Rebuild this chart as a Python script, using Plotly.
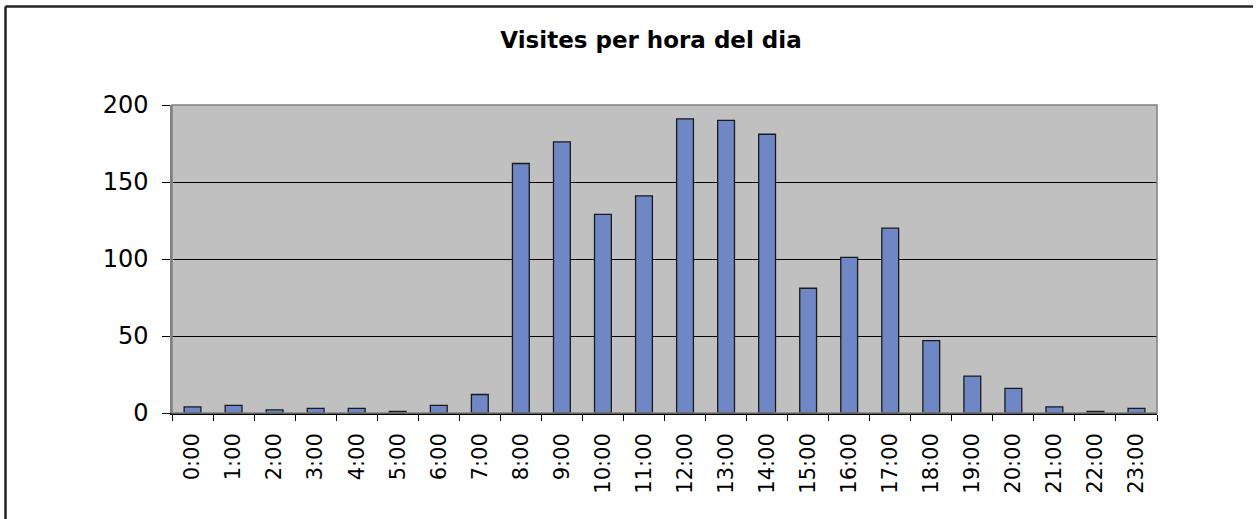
import plotly.graph_objects as go

hours = [f"{h}:00" for h in range(24)]
visits = [4, 5, 2, 3, 3, 1, 5, 12, 162, 176, 129, 141, 191, 190, 181, 81, 101, 120, 47, 24, 16, 4, 1, 3]
y_ticks = [0, 50, 100, 150, 200]
title_text = "Visites per hora del dia"

W, H = 1258, 519
L, R, T, B = 172, 101, 105, 106
pw, ph = W - L - R, H - T - B

fig = go.Figure(go.Bar(
    x=hours, y=visits,
    marker=dict(color="#6F87C4", line=dict(color="#1a1a1a", width=1.3)),
    width=0.41,
))

font = "DejaVu Sans, Verdana, sans-serif"
fig.update_layout(
    width=W, height=H,
    margin=dict(l=L, r=R, t=T, b=B, autoexpand=False),
    paper_bgcolor="white", plot_bgcolor="#C0C0C0",
    showlegend=False,
    title=dict(text=f"<b>{title_text}</b>", x=651 / W, xref="container", xanchor="center",
               y=1 - 40 / H, yref="container", yanchor="middle",
               font=dict(family=font, size=23, color="black")),
    font=dict(family=font, size=20, color="black"),
)
fig.update_xaxes(
    type="category", tickangle=-90, tickson="boundaries",
    ticks="outside", ticklen=6, tickcolor="black", tickwidth=1,
    showline=True, linecolor="black", linewidth=1.5,
    showgrid=False, tickfont=dict(size=21), ticklabelstandoff=10,
)
fig.update_yaxes(
    range=[0, 200], tickvals=y_ticks,
    ticks="outside", ticklen=8, tickcolor="black", tickwidth=1,
    showline=True, linecolor="#808080", linewidth=1.5,
    showgrid=True, gridcolor="black", gridwidth=1,
    zeroline=False, tickfont=dict(size=24), ticklabelstandoff=9,
)
# plot-area border
fig.add_shape(type="rect", xref="paper", yref="paper", x0=0, x1=1, y0=0, y1=1,
              line=dict(color="#808080", width=1.5), layer="above")
# chart frame (left and top edges)
fx = (5.5 - L) / pw
fy = 1 + (T - 6.5) / ph
fig.add_shape(type="line", xref="paper", yref="paper", x0=fx, x1=fx, y0=-(H - T - ph) / ph - 0.01, y1=fy,
              line=dict(color="#222222", width=2.5))
fig.add_shape(type="line", xref="paper", yref="paper", x0=fx, x1=(1253 - L) / pw, y0=fy, y1=fy,
              line=dict(color="#222222", width=2.5))

fig.write_html("out.html", config={"displayModeBar": False},
               post_script="document.body.style.margin='0';document.body.style.overflow='hidden';")
